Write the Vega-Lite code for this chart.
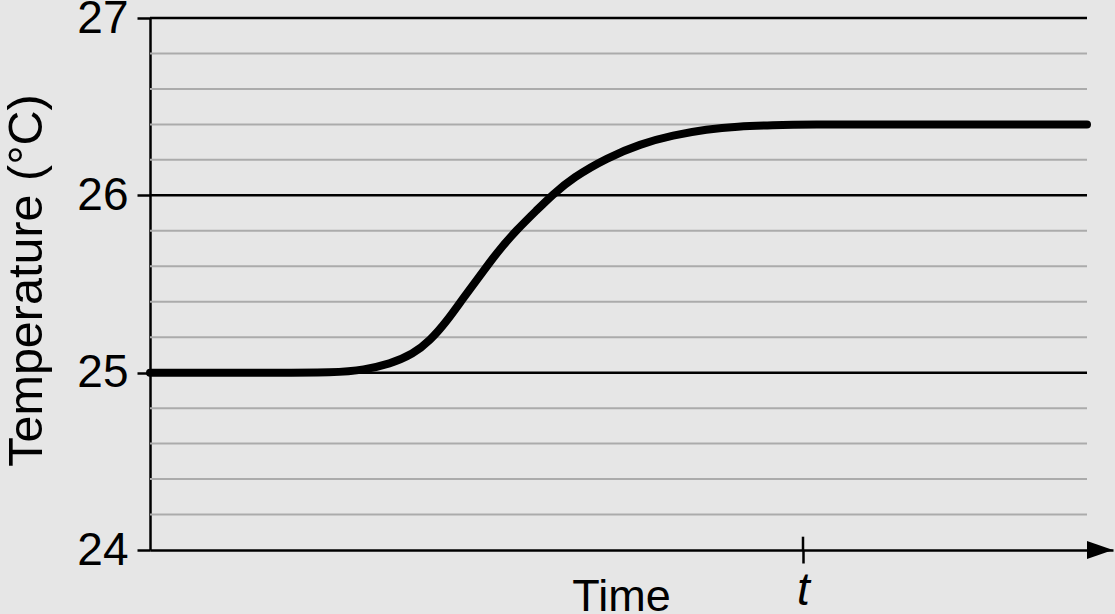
{
  "$schema": "https://vega.github.io/schema/vega-lite/v6.json",
  "width": 963,
  "height": 532,
  "autosize": "none",
  "padding": {"left": 150, "top": 18, "right": 2, "bottom": 64},
  "background": "#e6e6e6",
  "config": {"view": {"stroke": null}, "font": "Liberation Sans"},
  "datasets": {
    "grid": [
      {"v": 24.2, "kind": "minor"}, {"v": 24.4, "kind": "minor"}, {"v": 24.6, "kind": "minor"}, {"v": 24.8, "kind": "minor"},
      {"v": 25.2, "kind": "minor"}, {"v": 25.4, "kind": "minor"}, {"v": 25.6, "kind": "minor"}, {"v": 25.8, "kind": "minor"},
      {"v": 26.2, "kind": "minor"}, {"v": 26.4, "kind": "minor"}, {"v": 26.6, "kind": "minor"}, {"v": 26.8, "kind": "minor"},
      {"v": 25, "kind": "major"}, {"v": 26, "kind": "major"}, {"v": 27, "kind": "major"}
    ],
    "curve": [
      {"time": 0, "temp": 25.0},
      {"time": 100, "temp": 25.0},
      {"time": 190, "temp": 25.0},
      {"time": 213, "temp": 25.0155},
      {"time": 240, "temp": 25.0488},
      {"time": 263, "temp": 25.1042},
      {"time": 280, "temp": 25.1802},
      {"time": 297, "temp": 25.2911},
      {"time": 313, "temp": 25.4186},
      {"time": 330, "temp": 25.5461},
      {"time": 347, "temp": 25.6792},
      {"time": 367, "temp": 25.8067},
      {"time": 387, "temp": 25.9176},
      {"time": 402, "temp": 26.0008},
      {"time": 423, "temp": 26.1006},
      {"time": 457, "temp": 26.2115},
      {"time": 490, "temp": 26.2891},
      {"time": 523, "temp": 26.339},
      {"time": 557, "temp": 26.3722},
      {"time": 587, "temp": 26.3889},
      {"time": 623, "temp": 26.3961},
      {"time": 657, "temp": 26.4},
      {"time": 750, "temp": 26.4},
      {"time": 850, "temp": 26.4},
      {"time": 937, "temp": 26.4}
    ]
  },
  "resolve": {"axis": {"x": "independent", "y": "independent"}},
  "layer": [
    {
      "data": {"name": "grid"},
      "transform": [{"filter": "datum.kind == 'minor'"}],
      "mark": {"type": "rule", "color": "#ababab", "strokeWidth": 2},
      "encoding": {
        "x": {"datum": 0, "type": "quantitative", "scale": {"domain": [0, 963], "nice": false, "zero": false}, "axis": null},
        "x2": {"datum": 937},
        "y": {"field": "v", "type": "quantitative", "scale": {"domain": [24, 27], "nice": false, "zero": false}, "axis": null}
      }
    },
    {
      "data": {"name": "grid"},
      "transform": [{"filter": "datum.kind == 'major'"}],
      "mark": {"type": "rule", "color": "black", "strokeWidth": 2.5},
      "encoding": {
        "x": {"datum": 0, "type": "quantitative", "axis": null},
        "x2": {"datum": 937},
        "y": {"field": "v", "type": "quantitative", "axis": null}
      }
    },
    {
      "data": {"name": "curve"},
      "mark": {"type": "line", "color": "black", "strokeWidth": 8, "strokeCap": "round", "interpolate": "basis"},
      "encoding": {
        "x": {
          "field": "time", "type": "quantitative",
          "axis": {
            "values": [653], "labelExpr": "'t'", "labelFontStyle": "italic", "grid": false,
            "domainColor": "black", "domainWidth": 2.5,
            "tickColor": "black", "tickWidth": 2.5, "tickSize": 13,
            "labelFont": "Liberation Sans", "labelFontSize": 46, "labelColor": "black", "labelPadding": 5,
            "title": "Time", "titleFont": "Liberation Sans", "titleFontSize": 45, "titleFontWeight": "normal",
            "titleColor": "black", "titleX": 471, "titleY": 60, "titleBaseline": "alphabetic", "titleAlign": "center"
          }
        },
        "y": {
          "field": "temp", "type": "quantitative",
          "axis": {
            "values": [24, 25, 26, 27], "format": "d", "grid": false,
            "domainColor": "black", "domainWidth": 2.5,
            "tickColor": "black", "tickWidth": 2.5, "tickSize": 13,
            "labelFont": "Liberation Sans", "labelFontSize": 46, "labelColor": "black", "labelPadding": 9,
            "title": "Temperature (°C)", "titleFont": "Liberation Sans", "titleFontSize": 48.5, "titleFontWeight": "normal",
            "titleColor": "black", "titleX": -109, "titleY": 262, "titleBaseline": "alphabetic", "titleAlign": "center", "titleAngle": 270
          }
        }
      }
    },
    {
      "data": {"values": [{}]},
      "mark": {"type": "rule", "color": "black", "strokeWidth": 2.5},
      "encoding": {
        "x": {"datum": 653, "type": "quantitative", "axis": null},
        "y": {"datum": 24, "type": "quantitative", "axis": null},
        "y2": {"datum": 24.075}
      }
    },
    {
      "data": {"values": [{}]},
      "mark": {"type": "point", "shape": "M1,0L-1,-0.7L-1,0.7Z", "size": 676, "filled": true, "color": "black", "opacity": 1},
      "encoding": {
        "x": {"datum": 950, "type": "quantitative", "axis": null},
        "y": {"datum": 24, "type": "quantitative", "axis": null}
      }
    }
  ]
}
